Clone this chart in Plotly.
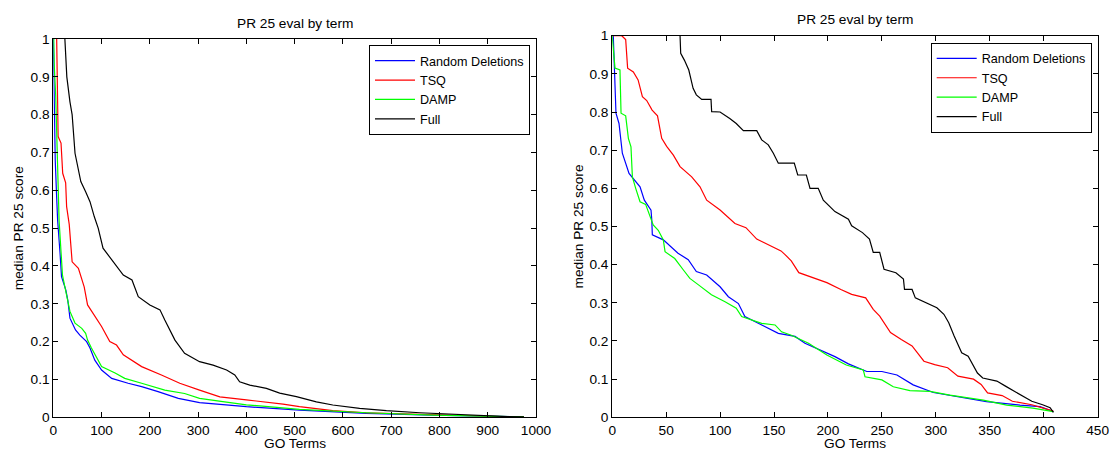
import plotly.graph_objects as go

W, H = 1110, 453

# ---------------- data: left panel ----------------
left_rd_x = [0, 1.5, 4, 7, 9, 14, 17, 26, 30, 34.5, 46, 55, 69, 76, 86, 100, 121, 155, 183, 217, 259, 303, 352, 400, 510, 648, 786, 945, 975]
left_rd_y = [1, 0.85, 0.68, 0.58, 0.52, 0.433, 0.372, 0.336, 0.31, 0.262, 0.231, 0.217, 0.2, 0.183, 0.151, 0.125, 0.103, 0.09, 0.081, 0.068, 0.05, 0.039, 0.033, 0.028, 0.019, 0.0106, 0.006, 0.002, 0.001]

left_tsq_x = [7, 8, 10, 16, 19.5, 25.6, 27.6, 33, 39, 52, 64, 71, 86, 100, 117, 131, 145, 183, 224, 262, 303, 345, 400, 476, 510, 579, 648, 752, 855, 945, 975]
left_tsq_y = [1, 0.92, 0.742, 0.725, 0.645, 0.62, 0.557, 0.51, 0.411, 0.394, 0.345, 0.297, 0.266, 0.24, 0.2, 0.191, 0.165, 0.134, 0.112, 0.09, 0.072, 0.054, 0.046, 0.035, 0.028, 0.0176, 0.012, 0.008, 0.0035, 0.0015, 0.001]

left_damp_x = [1, 2, 5, 8, 10, 12, 19, 24, 34.5, 45, 59, 67, 71, 79, 100, 128, 148, 183, 231, 272, 303, 355, 400, 510, 648, 786, 945, 975]
left_damp_y = [1, 0.93, 0.85, 0.68, 0.58, 0.52, 0.376, 0.345, 0.28, 0.249, 0.235, 0.222, 0.204, 0.183, 0.134, 0.117, 0.103, 0.09, 0.072, 0.063, 0.05, 0.041, 0.033, 0.021, 0.012, 0.006, 0.002, 0.001]

left_full_x = [24, 28, 34.5, 39, 45, 50, 57, 67, 76, 85, 93, 103, 121, 145, 163, 176, 200, 221, 231, 252, 272, 303, 331, 359, 376, 386, 407, 441.5, 469, 503.6, 545, 579, 634.6, 690, 759, 828, 897, 941, 975]
left_full_y = [1, 0.9, 0.834, 0.8, 0.698, 0.667, 0.623, 0.596, 0.57, 0.53, 0.5, 0.447, 0.416, 0.376, 0.363, 0.319, 0.297, 0.284, 0.257, 0.204, 0.169, 0.147, 0.138, 0.125, 0.112, 0.094, 0.085, 0.0766, 0.064, 0.0546, 0.041, 0.0325, 0.0238, 0.0176, 0.012, 0.0079, 0.0035, 0.002, 0.001]

# ---------------- data: right panel ----------------
right_rd_x = [1, 2, 3.5, 6.3, 9.4, 15.6, 21, 25.8, 29.8, 36, 36.7, 37.2, 47.4, 61, 70.5, 78, 87.6, 100, 107.7, 117, 123, 135.5, 154, 169.5, 178.7, 206.5, 219, 236, 250, 264, 279, 297.7, 319, 347, 378, 396.6, 409]
right_rd_y = [1, 0.91, 0.797, 0.77, 0.692, 0.639, 0.622, 0.604, 0.569, 0.543, 0.517, 0.478, 0.465, 0.43, 0.413, 0.382, 0.373, 0.342, 0.316, 0.298, 0.264, 0.246, 0.22, 0.212, 0.194, 0.159, 0.14, 0.12, 0.12, 0.111, 0.085, 0.065, 0.054, 0.041, 0.032, 0.028, 0.015]

right_tsq_x = [0, 8.8, 12.5, 14.3, 19.6, 24, 28, 32, 37, 42, 45.9, 50.5, 56.7, 62.9, 73.7, 81.4, 87.6, 100, 113.8, 124, 134, 143, 156.5, 160, 166, 173, 186, 199, 212, 222, 235, 242, 248, 252, 258, 268, 278, 283, 289, 299, 311, 320.5, 335, 342, 348, 361.5, 371, 389, 409]
right_tsq_y = [1, 1, 0.99, 0.915, 0.905, 0.884, 0.84, 0.83, 0.805, 0.79, 0.731, 0.71, 0.687, 0.657, 0.63, 0.604, 0.569, 0.543, 0.508, 0.497, 0.467, 0.454, 0.436, 0.427, 0.41, 0.379, 0.366, 0.353, 0.335, 0.322, 0.313, 0.283, 0.265, 0.248, 0.222, 0.204, 0.187, 0.169, 0.147, 0.138, 0.13, 0.108, 0.1, 0.086, 0.064, 0.057, 0.042, 0.033, 0.016]

right_damp_x = [0, 2.6, 7.2, 8.2, 12.5, 15, 17.4, 18.7, 21.8, 25.8, 31, 35, 38, 42.7, 47.4, 49, 58, 66, 72, 80, 92, 104.6, 115, 120, 138.6, 151, 157, 166, 182, 199, 217, 232.8, 234.4, 250, 260.6, 276, 294.6, 313, 344, 365.7, 390, 409]
right_damp_y = [1, 0.915, 0.91, 0.797, 0.79, 0.731, 0.709, 0.63, 0.6, 0.565, 0.558, 0.526, 0.504, 0.49, 0.465, 0.434, 0.416, 0.386, 0.364, 0.347, 0.321, 0.303, 0.286, 0.264, 0.246, 0.242, 0.224, 0.215, 0.194, 0.163, 0.137, 0.124, 0.106, 0.098, 0.08, 0.07, 0.068, 0.058, 0.045, 0.032, 0.024, 0.015]

right_full_x = [62.9, 63.5, 66.9, 71, 75, 78, 83, 91.6, 92.2, 100, 109, 115, 121.6, 134, 138.6, 144.7, 149.4, 154, 168.8, 172, 180, 183.4, 191, 195.7, 206.5, 219, 222, 232, 238.5, 242, 248, 252, 263, 270, 271, 278, 281, 291, 301, 307.5, 312, 317, 324, 330, 335, 338.6, 343.5, 356.6, 365, 373, 380, 389, 399, 406, 409]
right_full_y = [1, 0.954, 0.936, 0.91, 0.862, 0.845, 0.833, 0.833, 0.801, 0.8, 0.783, 0.77, 0.751, 0.751, 0.727, 0.714, 0.692, 0.666, 0.666, 0.635, 0.635, 0.6, 0.6, 0.569, 0.539, 0.519, 0.502, 0.484, 0.467, 0.432, 0.432, 0.388, 0.379, 0.362, 0.335, 0.335, 0.313, 0.3, 0.287, 0.27, 0.248, 0.213, 0.169, 0.16, 0.134, 0.116, 0.103, 0.095, 0.081, 0.068, 0.055, 0.042, 0.033, 0.025, 0.013]

series_names = ["Random Deletions", "TSQ", "DAMP", "Full"]
series_colors = ["#0000ff", "#ff0000", "#00ff00", "#000000"]
panel_title = "PR 25 eval by term"
x_label = "GO Terms"
y_label = "median PR 25 score"

FONT = "Liberation Sans, Arial, Helvetica, sans-serif"
FS = 13.7
LFS = 12.6


def px(xp):
    return xp / W


def py(yp):
    return 1 - yp / H


fig = go.Figure()

left = [(left_rd_x, left_rd_y), (left_tsq_x, left_tsq_y), (left_damp_x, left_damp_y), (left_full_x, left_full_y)]
right = [(right_rd_x, right_rd_y), (right_tsq_x, right_tsq_y), (right_damp_x, right_damp_y), (right_full_x, right_full_y)]

for (xs, ys), name, col in zip(left, series_names, series_colors):
    fig.add_trace(go.Scatter(x=xs, y=ys, mode="lines", name=name, line=dict(color=col, width=1.2),
                             xaxis="x", yaxis="y", legend="legend"))
for (xs, ys), name, col in zip(right, series_names, series_colors):
    fig.add_trace(go.Scatter(x=xs, y=ys, mode="lines", name=name, line=dict(color=col, width=1.2),
                             xaxis="x2", yaxis="y2", legend="legend2"))

axis_common = dict(showgrid=False, zeroline=False, showline=True, linecolor="black", linewidth=1,
                   mirror="ticks", ticks="inside", ticklen=5, tickcolor="black", tickwidth=1,
                   tickfont=dict(family=FONT, size=FS, color="black"), automargin=False)

L_X0, L_X1, L_Y0, L_Y1 = 53.3, 536.0, 39.0, 417.3
R_X0, R_X1, R_Y0, R_Y1 = 612.2, 1097.6, 35.7, 417.3

fig.update_layout(
    width=W, height=H,
    margin=dict(l=0, r=0, t=0, b=0),
    paper_bgcolor="white", plot_bgcolor="white",
    showlegend=True,
    xaxis=dict(domain=[px(L_X0), px(L_X1)], range=[0, 1000], tickmode="linear", tick0=0, dtick=100,
               anchor="y", **axis_common),
    yaxis=dict(domain=[py(L_Y1), py(L_Y0)], range=[0, 1], tickmode="linear", tick0=0, dtick=0.1,
               anchor="x", **axis_common),
    xaxis2=dict(domain=[px(R_X0), px(R_X1)], range=[0, 450], tickmode="linear", tick0=0, dtick=50,
                anchor="y2", **axis_common),
    yaxis2=dict(domain=[py(R_Y1), py(R_Y0)], range=[0, 1], tickmode="linear", tick0=0, dtick=0.1,
                anchor="x2", **axis_common),
    legend=dict(x=px(530), y=py(45), xanchor="right", yanchor="top", bgcolor="white",
                bordercolor="black", borderwidth=1, font=dict(family=FONT, size=LFS, color="black"),
                itemwidth=40, tracegroupgap=0),
    legend2=dict(x=px(1091.7), y=py(42.7), xanchor="right", yanchor="top", bgcolor="white",
                 bordercolor="black", borderwidth=1, font=dict(family=FONT, size=LFS, color="black"),
                 itemwidth=40, tracegroupgap=0),
)

annots = []
for (x0, x1, y0, y1, tx) in [(L_X0, L_X1, L_Y0, L_Y1, 18), (R_X0, R_X1, R_Y0, R_Y1, 578)]:
    cx = (x0 + x1) / 2
    annots.append(dict(text=panel_title, x=px(cx), y=py(y0 - 16), xref="paper", yref="paper",
                       showarrow=False, xanchor="center", yanchor="middle",
                       font=dict(family=FONT, size=FS, color="black")))
    annots.append(dict(text=x_label, x=px(cx), y=py(443), xref="paper", yref="paper",
                       showarrow=False, xanchor="center", yanchor="middle",
                       font=dict(family=FONT, size=FS, color="black")))
    annots.append(dict(text=y_label, x=px(tx), y=py((y0 + y1) / 2), xref="paper", yref="paper",
                       showarrow=False, xanchor="center", yanchor="middle", textangle=-90,
                       font=dict(family=FONT, size=FS, color="black")))
fig.update_layout(annotations=annots)

fig.write_html("out.html")
